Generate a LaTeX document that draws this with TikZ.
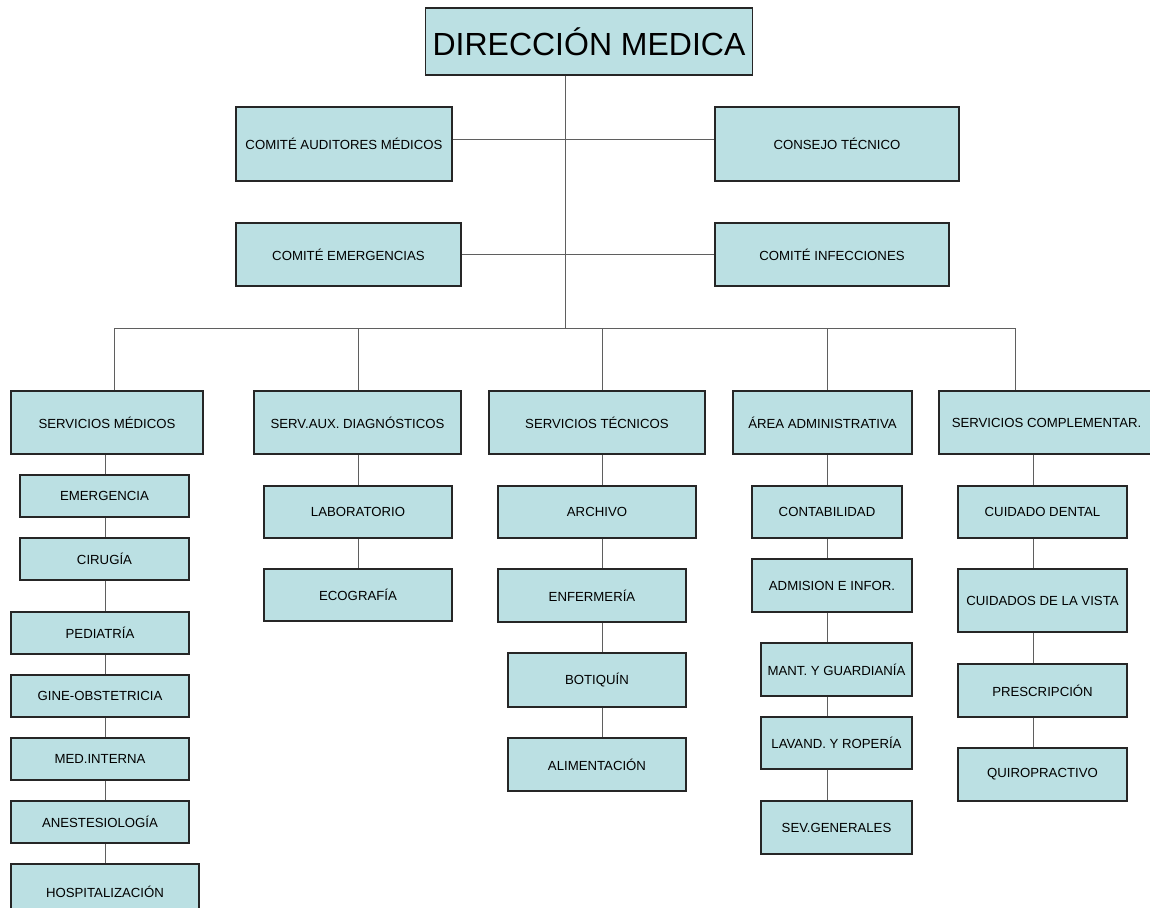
\documentclass[tikz,border=0pt]{standalone}
\usepackage{fontspec}
\setmainfont{Liberation Sans}
\definecolor{orgfill}{HTML}{BBE0E3}
\definecolor{orgline}{HTML}{5F5F5F}

\begin{document}
\begin{tikzpicture}[
    x=1pt, y=-1pt,
    box/.style={
        draw=black!85,
        line width=1.3pt,
        fill=orgfill,
        align=center,
        inner sep=0pt,
        font=\fontsize{13.2}{15}\selectfont
    },
    headbox/.style={
        box,
        font=\fontsize{32}{36}\selectfont
    },
    wh/.style 2 args={minimum width=#1pt, minimum height=#2pt},
    link/.style={draw=orgline, line width=1pt}
]
\useasboundingbox (0,0) rectangle (1150,907);
\clip (0,0) rectangle (1150,907);

\node[headbox, wh={327}{67}] (dir) at (589,41.5) {DIRECCIÓN MEDICA};
\node[box, wh={216}{74}] (aud) at (344,144) {COMITÉ AUDITORES MÉDICOS};
\node[box, wh={244}{74}] (cons) at (837,144) {CONSEJO TÉCNICO};
\node[box, wh={225}{63}] (cemer) at (348.5,254.5) {COMITÉ EMERGENCIAS};
\node[box, wh={234}{63}] (cinf) at (832,254.5) {COMITÉ INFECCIONES};

\node[box, wh={192}{63}] (sm) at (107,422.5) {SERVICIOS MÉDICOS};
\node[box, wh={207}{63}] (sad) at (357.5,422.5) {SERV.AUX. DIAGNÓSTICOS};
\node[box, wh={216}{63}] (st) at (597,422.5) {SERVICIOS TÉCNICOS};
\node[box, wh={179}{63}] (aa) at (822.5,422.5) {ÁREA ADMINISTRATIVA};
\node[box, wh={215}{63}] (sc) at (1046.5,422.5) {SERVICIOS COMPLEMENTAR.};

\node[box, wh={169}{42}] (emerg) at (104.5,496) {EMERGENCIA};
\node[box, wh={169}{42}] (cir) at (104.5,559) {CIRUGÍA};
\node[box, wh={178}{42}] (ped) at (100,633) {PEDIATRÍA};
\node[box, wh={178}{42}] (gine) at (100,696) {GINE-OBSTETRICIA};
\node[box, wh={178}{42}] (med) at (100,759) {MED.INTERNA};
\node[box, wh={178}{42}] (anest) at (100,822) {ANESTESIOLOGÍA};
\node[box, wh={188}{56}] (hosp) at (105,892) {HOSPITALIZACIÓN};

\node[box, wh={188}{52}] (lab) at (358,512) {LABORATORIO};
\node[box, wh={188}{52}] (eco) at (358,595) {ECOGRAFÍA};

\node[box, wh={198}{52}] (arch) at (597,512) {ARCHIVO};
\node[box, wh={188}{53}] (enf) at (592,595.5) {ENFERMERÍA};
\node[box, wh={178}{54}] (bot) at (597,680) {BOTIQUÍN};
\node[box, wh={178}{53}] (alim) at (597,764.5) {ALIMENTACIÓN};

\node[box, wh={150}{52}] (cont) at (827,512) {CONTABILIDAD};
\node[box, wh={160}{53}] (adm) at (832,585.5) {ADMISION E INFOR.};
\node[box, wh={151}{53}] (mant) at (836.5,669.5) {MANT. Y GUARDIANÍA};
\node[box, wh={151}{52}] (lav) at (836.5,743) {LAVAND. Y ROPERÍA};
\node[box, wh={151}{53}] (sev) at (836.5,827.5) {SEV.GENERALES};

\node[box, wh={169}{52}] (dent) at (1042.5,512) {CUIDADO DENTAL};
\node[box, wh={169}{63}] (vista) at (1042.5,600.5) {CUIDADOS DE LA VISTA};
\node[box, wh={169}{53}] (presc) at (1042.5,690.5) {PRESCRIPCIÓN};
\node[box, wh={169}{53}] (quiro) at (1042.5,774.5) {QUIROPRACTIVO};

\coordinate (hub) at (565,328);
\coordinate (b1) at (114,328);
\coordinate (b2) at (358,328);
\coordinate (b3) at (602,328);
\coordinate (b4) at (827,328);
\coordinate (b5) at (1015,328);
\coordinate (c1) at (105,0);
\coordinate (c2) at (358,0);
\coordinate (c3) at (602,0);
\coordinate (c4) at (827,0);
\coordinate (c5) at (1033,0);

\draw[link] (dir.south -| hub) -- (hub);
\draw[link] ([yshift=5pt]aud.east) -- ([yshift=5pt]cons.west);
\draw[link] (cemer.east) -- (cinf.west);
\draw[link] (b1) -- (b5);
\foreach \b/\n in {b1/sm, b2/sad, b3/st, b4/aa, b5/sc}
    \draw[link] (\b) -- (\b |- \n.north);

\foreach \a/\b in {sm/emerg, emerg/cir, cir/ped, ped/gine, gine/med, med/anest, anest/hosp}
    \draw[link] (c1 |- \a.south) -- (c1 |- \b.north);
\foreach \a/\b in {sad/lab, lab/eco}
    \draw[link] (c2 |- \a.south) -- (c2 |- \b.north);
\foreach \a/\b in {st/arch, arch/enf, enf/bot, bot/alim}
    \draw[link] (c3 |- \a.south) -- (c3 |- \b.north);
\foreach \a/\b in {aa/cont, cont/adm, adm/mant, mant/lav, lav/sev}
    \draw[link] (c4 |- \a.south) -- (c4 |- \b.north);
\foreach \a/\b in {sc/dent, dent/vista, vista/presc, presc/quiro}
    \draw[link] (c5 |- \a.south) -- (c5 |- \b.north);
\end{tikzpicture}
\end{document}
